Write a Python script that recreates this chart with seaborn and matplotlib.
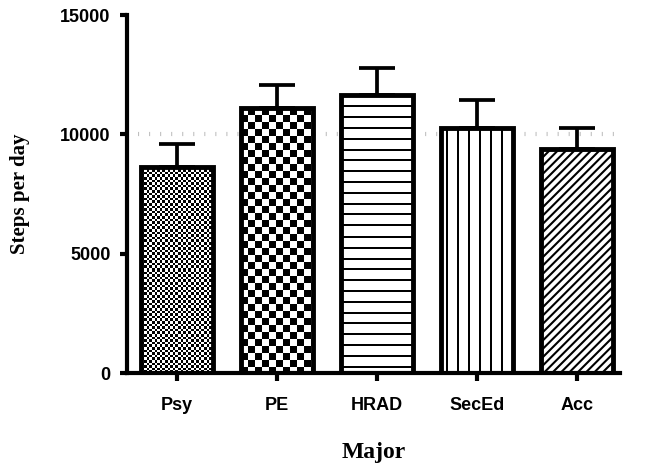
import matplotlib
matplotlib.use("Agg")
import matplotlib.pyplot as plt
import seaborn as sns
import numpy as np
import pandas as pd

# data
majors = ["Psy", "PE", "HRAD", "SecEd", "Acc"]
steps_mean = [8650, 11100, 11650, 10250, 9400]
steps_err = [950, 980, 1150, 1200, 850]
y_ticks = [0, 5000, 10000, 15000]
# fill style per bar
patterns = ["fine_check", "check", "hlines", "vlines", "diag"]

sns.set_style("ticks", {"axes.edgecolor": "black", "xtick.color": "black",
                        "ytick.color": "black", "text.color": "black",
                        "axes.labelcolor": "black"})
plt.rcParams["hatch.linewidth"] = 1.5

df = pd.DataFrame({"major": majors, "steps": steps_mean})

fig = plt.figure(figsize=(6.59, 4.70), dpi=100)
ax = fig.add_axes([127 / 659, 97 / 470, 493 / 659, 358 / 470])

sns.barplot(data=df, x="major", y="steps", color="white", edgecolor="black",
            linewidth=3.5, width=0.72, errorbar=None, ax=ax, zorder=3)

# only the upper half of the error bar is shown
ax.errorbar(range(len(majors)), steps_mean,
            yerr=[np.zeros(len(majors)), steps_err],
            fmt="none", ecolor="black", elinewidth=2.7, capsize=12.8,
            capthick=2.7, zorder=2)

# light dotted reference line at 10000
ax.axhline(10000, color="#bdbdbd", linewidth=3, linestyle=(0, (0.25, 2.4)), zorder=1)

ax.set_xlim(-0.5, 4.43)
ax.set_ylim(0, 15000)
ax.set_yticks(y_ticks)


def make_pattern(kind, w, h):
    jj, ii = np.meshgrid(np.arange(w), np.arange(h))
    if kind == "fine_check":
        return ((ii // 2.6 + jj // 2.6) % 2).astype(float)
    if kind == "check":
        return ((ii // 7 + jj // 7) % 2).astype(float)
    if kind == "hlines":
        return ((ii % 10.8) < 2).astype(float)
    if kind == "vlines":
        return (((jj + 6) % 11) < 2).astype(float)
    return np.zeros((h, w))


for p, kind in zip(ax.patches, patterns):
    p.set_facecolor("none")
    if kind == "diag":
        p.set_hatch("////")
        continue
    x0, w, hgt = p.get_x(), p.get_width(), p.get_height()
    (px0, py0), (px1, py1) = ax.transData.transform([(x0, 0), (x0 + w, hgt)])
    arr = make_pattern(kind, int(round(px1 - px0)), int(round(py1 - py0)))
    im = ax.imshow(arr, cmap="gray_r", vmin=0, vmax=1, extent=(x0, x0 + w, 0, hgt),
                   origin="upper", interpolation="nearest", aspect="auto", zorder=2.5)
    im.set_clip_path(p)

ax.set_xlim(-0.5, 4.43)
ax.set_ylim(0, 15000)

sns.despine(ax=ax)
for s in ["left", "bottom"]:
    ax.spines[s].set_linewidth(3)
ax.tick_params(axis="y", length=5, width=3, pad=7)
ax.tick_params(axis="x", length=6, width=3, pad=11)
for lab in ax.get_xticklabels() + ax.get_yticklabels():
    lab.set_fontfamily("Liberation Sans")
    lab.set_fontweight("bold")
    lab.set_fontsize(13)

ax.set_xlabel("Major", fontfamily="Liberation Serif", fontweight="bold", fontsize=17)
ax.set_ylabel("Steps per day", fontfamily="Liberation Serif", fontweight="bold", fontsize=15)
ax.xaxis.label.set_va("center")
ax.yaxis.label.set_va("center")
ax.xaxis.set_label_coords(0.5, -0.223)
ax.yaxis.set_label_coords(-0.217, 0.5)

fig.savefig("out.png", dpi=100)
